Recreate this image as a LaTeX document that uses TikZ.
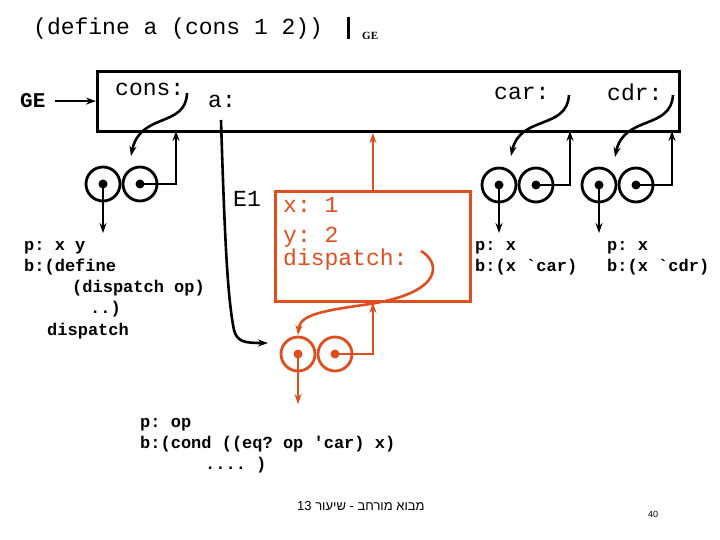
\documentclass[tikz,border=0pt]{standalone}
\usepackage{fontspec}
\setmainfont{Liberation Serif}
\setmonofont{Liberation Mono}
\newfontfamily\hebfont[Script=Hebrew]{Liberation Sans}
\TeXXeTstate=1
\usetikzlibrary{arrows.meta}
\definecolor{eorange}{RGB}{225,78,30}
\begin{document}
\begin{tikzpicture}[x=1pt,y=-1pt,
 big/.style={font=\ttfamily\fontsize{23}{23}\selectfont, inner sep=0, anchor=base west},
 bold/.style={font=\ttfamily\bfseries\fontsize{17}{17}\selectfont, inner sep=0, anchor=base west},
 ln/.style={line width=2.6pt},
 arr/.style={ln, -{Stealth[length=10pt,width=7pt]}},
 ring/.style={circle, draw, line width=2.8pt, minimum size=34pt, inner sep=0},
 dot/.style={circle, fill, minimum size=9pt, inner sep=0},
]
\useasboundingbox (0,0) rectangle (720,540);
% title
\node[big] (title) at (33,35) {(define a (cons 1 2))};
\draw[line width=3pt] (348,17) -- (348,39);
\node[font=\bfseries\fontsize{11}{11}\selectfont, inner sep=0, anchor=base west] (ge0) at (362,40) {GE};
% global frame
\node[draw, line width=3pt, minimum width=582pt, minimum height=60pt, anchor=north west, inner sep=0] (frame) at (96,70) {};
\node[font=\ttfamily\bfseries\fontsize{21}{21}\selectfont, inner sep=0, anchor=base west] (ge) at (20,108) {GE};
\draw[arr] ([xshift=9pt]ge.east) -- (ge.east -| frame.west);
\node[big] (cons) at (115,96) {cons:};
\node[big] (a) at (208,108) {a:};
\node[big] (car) at (494,100) {car:};
\node[big] (cdr) at (607,101) {cdr:};
% cons pair
\node[ring] (c1l) at (103,184) {};
\node[ring] (c1r) at (140,184) {};
\node[dot] (d1l) at (103,184) {};
\node[dot] (d1r) at (140,184) {};
\coordinate (f1) at (176,131);
\draw[arr] (d1r.center) -| (f1);
\draw[arr] (d1l.center) -- ++(0,49);
\draw[arr] (187,93) .. controls (186,128) and (140,112) .. (131,156);
% car pair
\node[ring] (c2l) at (499,185) {};
\node[ring] (c2r) at (536,185) {};
\node[dot] (d2l) at (499,185) {};
\node[dot] (d2r) at (536,185) {};
\coordinate (f2) at (570,131);
\draw[arr] (d2r.center) -| (f2);
\draw[arr] (d2l.center) -- ++(0,48);
\draw[arr] (569,95) .. controls (567,130) and (520,115) .. (511,156);
% cdr pair
\node[ring] (c3l) at (599,185) {};
\node[ring] (c3r) at (636,185) {};
\node[dot] (d3l) at (599,185) {};
\node[dot] (d3r) at (636,185) {};
\coordinate (f3) at (672,131);
\draw[arr] (d3r.center) -| (f3);
\draw[arr] (d3l.center) -- ++(0,48);
\draw[arr] (673,95) .. controls (671,130) and (624,115) .. (615,157);
% texts of procedures
\node[bold] (p1) at (24,250) {p: x y};
\node[bold] (b1) at (24,271) {b:(define};
\node[bold] (b1b) at (72,292) {(dispatch op)};
\node[bold] (b1c) at (90,313) {..)};
\node[bold] (b1d) at (47,335) {dispatch};
\node[bold] (p2) at (475,250) {p: x};
\node[bold] (b2) at (475,271) {b:(x `car)};
\node[bold] (p3) at (607,250) {p: x};
\node[bold] (b3) at (607,271) {b:(x `cdr)};
% E1 frame
\node[big] (e1) at (233,207) {E1};
\node[draw=eorange, line width=2.8pt, minimum width=195pt, minimum height=110pt, anchor=north west, inner sep=0] (env) at (274,190) {};
\node[big, text=eorange] (vx) at (283,213) {x: 1};
\node[big, text=eorange] (vy) at (283,242) {y: 2};
\node[big, text=eorange] (vd) at (283,265) {dispatch:};
\draw[arr, eorange] (env.north) -- (env.north |- frame.south);
% dispatch pair
\node[ring, draw=eorange] (o1) at (298,354) {};
\node[ring, draw=eorange] (o2) at (335,354) {};
\node[dot, fill=eorange] (od1) at (298,354) {};
\node[dot, fill=eorange] (od2) at (335,354) {};
\draw[arr, eorange] (od2.center) -| (env.south);
\draw[arr, eorange] (od1.center) -- ++(0,50);
\draw[arr, eorange] (421,251) .. controls (440,262) and (445,292) .. (370,304) .. controls (320,311) and (300,315) .. (298,335);
% a: pointer
\coordinate (astart) at (221,120);
\coordinate (aend) at (268,343);
\draw[arr] (astart) .. controls (225,250) and (228,300) .. (234,330) .. controls (237,342) and (245,343) .. (aend);
% dispatch procedure text
\node[bold] (p4) at (140,427) {p: op};
\node[bold] (b4) at (140,448) {b:(cond ((eq? op 'car) x)};
\node[bold] (b4b) at (205,469) {.... )};
% footer
\node[font=\hebfont\fontsize{13}{13}\selectfont, anchor=base west, inner sep=0] (foot) at (297,510) {\beginR מבוא מורחב - שיעור \beginL13\endL\endR};
\node[font=\hebfont\fontsize{9}{9}\selectfont, anchor=base west, inner sep=0] (pg) at (648,517) {40};
\end{tikzpicture}
\end{document}
